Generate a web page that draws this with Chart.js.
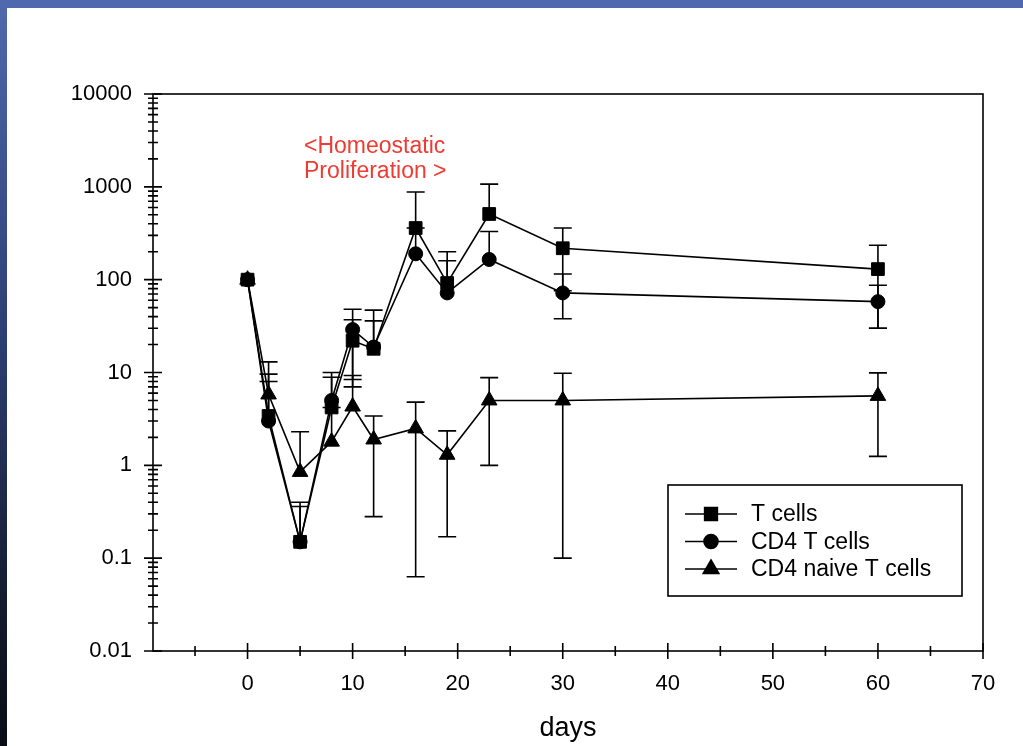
<!DOCTYPE html>
<html>
<head>
<meta charset="utf-8">
<script src="https://cdn.jsdelivr.net/npm/chart.js@4.4.1/dist/chart.umd.min.js"></script>
<style>
  html, body { margin: 0; padding: 0; background: #fff; }
  #wrap { position: relative; width: 1023px; height: 746px; overflow: hidden; }
  #topbar { position: absolute; left: 0; top: 0; width: 1023px; height: 8px; background: #5068ad; }
  #leftbar { position: absolute; left: 0; top: 0; width: 7px; height: 746px;
    background: linear-gradient(#5068ad 0%, #2c3f73 45%, #151c30 80%, #0a0d16 100%); }
  canvas { position: absolute; left: 0; top: 0; }
</style>
</head>
<body>
<div id="wrap">
  <canvas id="chart" width="1023" height="746"></canvas>
  <div id="topbar"></div>
  <div id="leftbar"></div>
</div>
<script>
const days = [0, 2, 5, 8, 10, 12, 16, 19, 23, 30, 60];

const tCells   = [100, 3.4, 0.15, 4.2, 22, 18, 360, 92, 510, 218, 130];
const tCellsHi = [null, 9.6, 0.40, 8.9, 37, 47, 880, 200, 1070, 360, 235];
const tCellsLo = [null, null, null, null, 7.0, null, null, null, null, 76, 30];

const cd4   = [100, 3.0, 0.15, 5.0, 29, 18.8, 190, 72, 165, 72, 58];
const cd4Hi = [null, 8.0, 0.36, 10, 48, 36, 360, 160, 330, 115, 87];
const cd4Lo = [null, null, null, null, 8.4, null, null, null, null, 38, 30];

const naive   = [100, 5.8, 0.85, 1.8, 4.3, 1.9, 2.5, 1.3, 5.0, 5.0, 5.6];
const naiveHi = [null, 13, 2.3, 4.2, 9.3, 3.4, 4.8, 2.35, 8.8, 9.8, 9.9];
const naiveLo = [null, null, null, null, null, 0.28, 0.063, 0.17, 1.0, 0.1, 1.25];

const seriesNames = ['T cells', 'CD4 T cells', 'CD4 naive T cells'];
const xTickValues = [0, 10, 20, 30, 40, 50, 60, 70];
const yTickValues = [0.01, 0.1, 1, 10, 100, 1000, 10000];
const yTickLabels = ['0.01', '0.1', '1', '10', '100', '1000', '10000'];
const noteLines = ['<Homeostatic', 'Proliferation >'];

const FONT = '"Liberation Sans", Arial, sans-serif';

const pts = vals => vals.map((v, i) => ({ x: days[i], y: v }));

function makeSet(label, vals, hi, lo, style, radius) {
  return {
    label: label,
    data: pts(vals),
    errHi: hi,
    errLo: lo,
    borderColor: '#000',
    backgroundColor: '#000',
    borderWidth: 1.6,
    pointStyle: style,
    pointRadius: radius,
    pointBorderWidth: 1,
    pointBackgroundColor: '#000',
    pointBorderColor: '#000',
    tension: 0,
    clip: false
  };
}

// error bars drawn under the markers
const errorBars = {
  id: 'errorBars',
  beforeDatasetsDraw(chart) {
    const { ctx, scales: { x, y } } = chart;
    ctx.save();
    ctx.strokeStyle = '#000';
    ctx.lineWidth = 1.6;
    chart.data.datasets.forEach(ds => {
      ds.data.forEach((p, i) => {
        const px = x.getPixelForValue(p.x);
        const py = y.getPixelForValue(p.y);
        [ds.errHi[i], ds.errLo[i]].forEach(e => {
          if (e == null) return;
          const ey = y.getPixelForValue(e);
          ctx.beginPath();
          ctx.moveTo(px, py); ctx.lineTo(px, ey);
          ctx.moveTo(px - 9, ey); ctx.lineTo(px + 9, ey);
          ctx.stroke();
        });
      });
    });
    ctx.restore();
  }
};

// box round the plot and tick marks that cross the axes
const frameTicks = {
  id: 'frameTicks',
  beforeDatasetsDraw(chart) {
    const { ctx, chartArea: a, scales: { x, y } } = chart;
    ctx.save();
    ctx.strokeStyle = '#000';
    ctx.lineWidth = 1.6;
    ctx.strokeRect(a.left, a.top, a.right - a.left, a.bottom - a.top);
    ctx.beginPath();
    xTickValues.forEach(v => {
      const px = x.getPixelForValue(v);
      ctx.moveTo(px, a.bottom - 8); ctx.lineTo(px, a.bottom + 8);
    });
    for (let v = -5; v < 70; v += 10) {
      const px = x.getPixelForValue(v);
      ctx.moveTo(px, a.bottom - 5); ctx.lineTo(px, a.bottom + 5);
    }
    yTickValues.forEach(v => {
      const py = y.getPixelForValue(v);
      ctx.moveTo(a.left - 9, py); ctx.lineTo(a.left + 9, py);
    });
    yTickValues.slice(0, -1).forEach(v => {
      for (let k = 2; k <= 9; k++) {
        const py = y.getPixelForValue(v * k);
        ctx.moveTo(a.left - 5, py); ctx.lineTo(a.left + 5, py);
      }
    });
    ctx.stroke();
    ctx.restore();
  }
};

// legend box inside the plot, plus the red note
const boxLegend = {
  id: 'boxLegend',
  afterDraw(chart) {
    const { ctx } = chart;
    ctx.save();
    ctx.strokeStyle = '#000';
    ctx.lineWidth = 1.6;
    ctx.strokeRect(668, 485, 294, 111);
    ctx.font = '23px ' + FONT;
    ctx.textBaseline = 'middle';
    chart.data.datasets.forEach((ds, i) => {
      const ry = 514 + i * 27.5;
      ctx.beginPath();
      ctx.moveTo(685, ry); ctx.lineTo(737, ry);
      ctx.stroke();
      Chart.helpers.drawPoint(ctx, {
        pointStyle: ds.pointStyle, radius: ds.pointRadius, borderWidth: 1, rotation: 0
      }, 711, ry);
      ctx.fillStyle = '#000';
      ctx.fillText(ds.label, 751, ry + 1);
    });
    ctx.fillStyle = '#ee3b33';
    ctx.font = '23px ' + FONT;
    noteLines.forEach((t, i) => ctx.fillText(t, 304, 147 + i * 25));
    ctx.restore();
  }
};

new Chart(document.getElementById('chart'), {
  type: 'line',
  data: {
    datasets: [
      makeSet(seriesNames[0], tCells, tCellsHi, tCellsLo, 'rect', 9),
      makeSet(seriesNames[1], cd4, cd4Hi, cd4Lo, 'circle', 7),
      makeSet(seriesNames[2], naive, naiveHi, naiveLo, 'triangle', 9)
    ]
  },
  options: {
    responsive: false,
    animation: false,
    layout: { padding: { top: 94, right: 40, left: 0, bottom: 0 } },
    plugins: { legend: { display: false }, tooltip: { enabled: false } },
    scales: {
      x: {
        type: 'linear',
        min: -9,
        max: 70,
        afterFit(s) { s.height = 95; },
        afterBuildTicks(s) { s.ticks = xTickValues.map(v => ({ value: v })); },
        grid: { display: false, drawTicks: false },
        border: { display: false },
        ticks: { color: '#000', font: { family: FONT, size: 22 }, padding: 20, maxRotation: 0 },
        title: {
          display: true, text: 'days', color: '#000',
          font: { family: FONT, size: 27 }, padding: { top: 0, bottom: 1 }
        }
      },
      y: {
        type: 'logarithmic',
        min: 0.01,
        max: 10000,
        afterFit(s) { s.width = 153; },
        afterBuildTicks(s) { s.ticks = yTickValues.map(v => ({ value: v })); },
        grid: { display: false, drawTicks: false },
        border: { display: false },
        ticks: {
          color: '#000', font: { family: FONT, size: 22 }, padding: 21,
          callback: (v) => yTickLabels[yTickValues.indexOf(v)]
        }
      }
    }
  },
  plugins: [frameTicks, errorBars, boxLegend]
});
</script>
</body>
</html>
